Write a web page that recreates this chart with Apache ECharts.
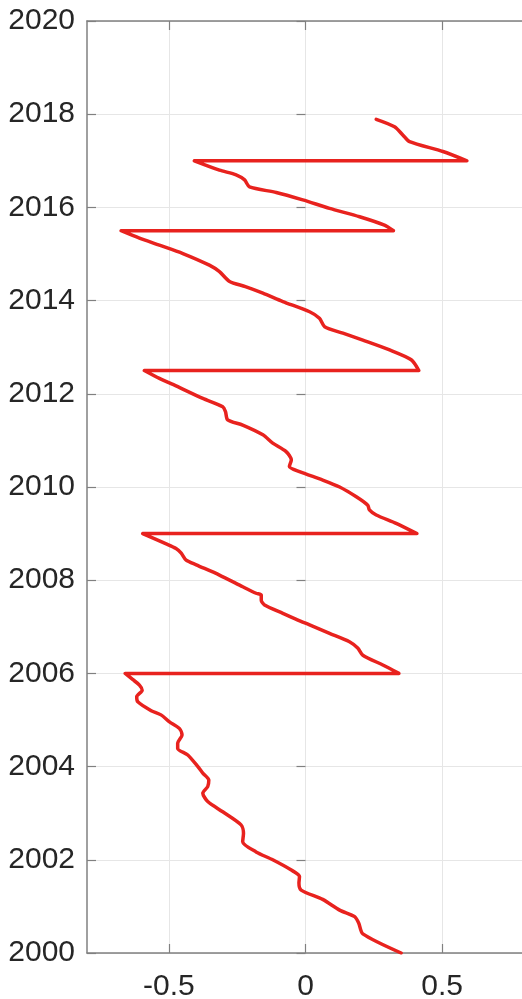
<!DOCTYPE html>
<html>
<head>
<meta charset="utf-8">
<style>
  html, body { margin: 0; padding: 0; background: #fff; }
  #chart { width: 522px; height: 999px; }
</style>
<script src="https://cdn.jsdelivr.net/npm/echarts@6/dist/echarts.min.js"></script>
</head>
<body>
<div id="chart"></div>
<script>
(function () {
  'use strict';

  // time (decimal year) and offset, in drawing order
  var years = [
    2000.0, 2000.41, 2000.64, 2000.78, 2000.92, 2001.15, 2001.35, 2001.5, 2001.64, 2001.78,
    2002.0, 2002.17, 2002.39, 2002.57, 2002.75, 2003.03, 2003.25, 2003.43, 2003.57, 2003.71,
    2003.86, 2004.0, 2004.25, 2004.39, 2004.5, 2004.68, 2004.82, 2004.96, 2005.11, 2005.2,
    2005.39, 2005.5, 2005.64, 2005.75, 2005.87, 2006.0,
    2006.0, 2006.18, 2006.39, 2006.54, 2006.68, 2006.86, 2007.04, 2007.15, 2007.29, 2007.47,
    2007.57, 2007.68, 2007.72, 2007.86, 2008.11, 2008.33, 2008.43, 2008.58, 2008.68, 2008.78,
    2009.0,
    2009.0, 2009.22, 2009.4, 2009.51, 2009.61, 2009.79, 2010.0, 2010.15, 2010.33, 2010.44,
    2010.58, 2010.76, 2010.94, 2011.12, 2011.33, 2011.44, 2011.62, 2011.72, 2011.9, 2012.17,
    2012.33, 2012.5,
    2012.5, 2012.73, 2012.94, 2013.15, 2013.3, 2013.44, 2013.62, 2013.76, 2013.98, 2014.16,
    2014.3, 2014.41, 2014.62, 2014.76, 2015.01, 2015.19, 2015.34, 2015.5,
    2015.5, 2015.62, 2015.8, 2015.98, 2016.16, 2016.32, 2016.44, 2016.59, 2016.7, 2016.8,
    2017.0,
    2017.0, 2017.2, 2017.41, 2017.55, 2017.73, 2017.89
  ];
  var values = [
    0.35, 0.21, 0.195, 0.18, 0.125, 0.063, -0.016, -0.024, -0.022, -0.052,
    -0.12, -0.181, -0.23, -0.227, -0.236, -0.303, -0.358, -0.376, -0.358, -0.354,
    -0.376, -0.394, -0.431, -0.468, -0.468, -0.452, -0.462, -0.498, -0.529, -0.565,
    -0.614, -0.618, -0.598, -0.608, -0.633, -0.66,
    0.342, 0.283, 0.21, 0.192, 0.161, 0.088, 0.015, -0.03, -0.083, -0.15,
    -0.162, -0.162, -0.181, -0.23, -0.315, -0.4, -0.437, -0.455, -0.474, -0.51,
    -0.596,
    0.408, 0.332, 0.259, 0.234, 0.228, 0.186, 0.125, 0.063, -0.022, -0.059,
    -0.052, -0.071, -0.12, -0.156, -0.23, -0.285, -0.293, -0.303, -0.376, -0.474,
    -0.535, -0.59,
    0.415, 0.387, 0.308, 0.21, 0.137, 0.07, 0.051, 0.015, -0.083, -0.156,
    -0.22, -0.278, -0.315, -0.352, -0.449, -0.535, -0.608, -0.675,
    0.322, 0.289, 0.198, 0.088, -0.01, -0.107, -0.205, -0.223, -0.254, -0.315,
    -0.407,
    0.591, 0.503, 0.381, 0.357, 0.326, 0.259
  ];

  var xTicks = [-0.5, 0, 0.5];
  var xTickLabels = ['-0.5', '0', '0.5'];
  var yTickLabels = ['2000', '2002', '2004', '2006', '2008', '2010', '2012', '2014', '2016', '2018', '2020'];

  var points = [];
  for (var i = 0; i < years.length; i += 1) {
    points.push([values[i], years[i]]);
  }

  var textColor = '#262626';
  var axisColor = '#808080';
  var gridColor = '#e6e6e6';
  var font = '"Liberation Sans", Arial, Helvetica, sans-serif';

  var chart = echarts.init(document.getElementById('chart'));
  chart.setOption({
    animation: false,
    backgroundColor: '#fff',
    grid: { left: 87, right: -2, top: 21, bottom: 46, containLabel: false, outerBoundsMode: 'none' },
    xAxis: [{
      type: 'value',
      position: 'bottom',
      min: -0.8,
      max: 0.8,
      axisLine: { show: true, onZero: false, lineStyle: { color: axisColor, width: 1.5 } },
      axisTick: { show: true, inside: true, length: 9, customValues: xTicks, lineStyle: { color: axisColor, width: 1.2 } },
      axisLabel: {
        customValues: xTicks,
        margin: 19,
        color: textColor,
        fontSize: 30,
        fontFamily: font,
        formatter: function (v) {
          var k = xTicks.indexOf(v);
          return k >= 0 ? xTickLabels[k] : '';
        }
      },
      splitLine: { show: true, lineStyle: { color: gridColor, width: 1 } }
    }, {
      type: 'value',
      position: 'top',
      min: -0.8,
      max: 0.8,
      axisLine: { show: true, onZero: false, lineStyle: { color: axisColor, width: 1.5 } },
      axisTick: { show: true, inside: true, length: 9, customValues: xTicks, lineStyle: { color: axisColor, width: 1.2 } },
      axisLabel: { show: false },
      splitLine: { show: false }
    }],
    yAxis: [{
      type: 'value',
      position: 'left',
      min: 2000,
      max: 2020,
      interval: 2,
      axisLine: { show: true, onZero: false, lineStyle: { color: axisColor, width: 1.5 } },
      axisTick: { show: true, inside: true, length: 9, lineStyle: { color: axisColor, width: 1.2 } },
      axisLabel: {
        margin: 12,
        padding: [5, 0, 0, 0],
        color: textColor,
        fontSize: 30,
        fontFamily: font,
        formatter: function (v) {
          return yTickLabels[Math.round((v - 2000) / 2)] || '';
        }
      },
      splitLine: { show: true, lineStyle: { color: gridColor, width: 1 } }
    }, {
      type: 'value',
      position: 'right',
      min: 2000,
      max: 2020,
      interval: 2,
      axisLine: { show: false },
      axisTick: { show: true, inside: true, length: 9, lineStyle: { color: axisColor, width: 1.2 } },
      axisLabel: { show: false },
      splitLine: { show: false }
    }],
    series: [{
      type: 'line',
      xAxisIndex: 0,
      yAxisIndex: 0,
      data: points,
      showSymbol: false,
      symbol: 'none',
      smooth: 0.25,
      lineStyle: { color: '#e8221e', width: 3.5, join: 'round', cap: 'round' }
    }]
  });
})();
</script>
</body>
</html>
